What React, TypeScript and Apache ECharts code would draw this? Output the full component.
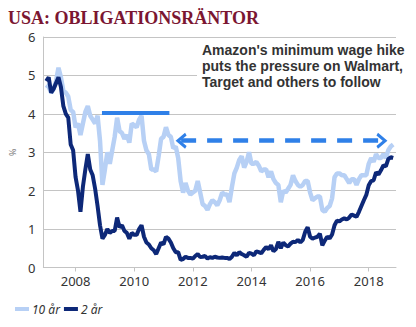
import React, { useEffect, useRef } from "react";
import * as echarts from "echarts";

// Monthly observations (start of month), Jan 2007 .. Oct 2018, plus end of Oct 2018
const START_YEAR = 2007;

const tenYear: number[] = [
  // 2007
  4.75, 4.7, 4.55, 4.65, 4.85, 5.2, 4.95, 4.6, 4.55, 4.45, 4.1, 4.05,
  // 2008
  3.65, 3.75, 3.45, 3.75, 4.05, 4.2, 3.95, 3.85, 3.75, 3.95, 3.3, 2.15,
  // 2009
  2.55, 3.0, 2.7, 3.05, 3.4, 3.9, 3.55, 3.5, 3.35, 3.45, 3.25, 3.75,
  // 2010
  3.7, 3.65, 3.85, 3.95, 3.3, 3.05, 2.95, 2.55, 2.55, 2.5, 2.9, 3.35,
  // 2011
  3.4, 3.65, 3.45, 3.4, 3.1, 3.15, 2.85, 2.25, 1.95, 2.2, 2.0, 1.9,
  // 2012
  1.95, 2.0, 2.25, 1.95, 1.65, 1.6, 1.5, 1.65, 1.75, 1.7, 1.62, 1.75,
  // 2013
  1.95, 1.9, 1.9, 1.7, 2.1, 2.45, 2.6, 2.8, 2.9, 2.6, 2.75, 3.0,
  // 2014
  2.7, 2.7, 2.75, 2.65, 2.5, 2.55, 2.55, 2.35, 2.5, 2.3, 2.2, 2.15,
  // 2015
  1.7, 2.0, 1.95, 2.05, 2.15, 2.4, 2.25, 2.15, 2.1, 2.15, 2.25, 2.25,
  // 2016
  1.95, 1.75, 1.8, 1.85, 1.85, 1.5, 1.45, 1.55, 1.6, 1.8, 2.35, 2.45,
  // 2017
  2.45, 2.4, 2.4, 2.3, 2.2, 2.3, 2.3, 2.15, 2.3, 2.4, 2.4, 2.4,
  // 2018
  2.7, 2.85, 2.75, 2.95, 2.85, 2.85, 2.95, 2.85, 3.05, 3.15, 3.2,
];

const twoYear: number[] = [
  // 2007
  4.85, 4.95, 4.55, 4.65, 4.8, 4.95, 4.7, 4.2, 4.0, 3.9, 3.2, 3.05,
  // 2008
  2.35, 2.0, 1.45, 2.1, 2.55, 2.95, 2.55, 2.4, 2.05, 1.6, 1.1, 0.75,
  // 2009
  0.85, 1.0, 0.9, 0.95, 0.95, 1.3, 1.05, 1.1, 0.95, 0.9, 0.75, 0.9,
  // 2010
  0.85, 0.85, 1.0, 1.1, 0.8, 0.65, 0.6, 0.5, 0.45, 0.35, 0.5, 0.65,
  // 2011
  0.6, 0.8, 0.75, 0.65, 0.5, 0.4, 0.4, 0.2, 0.22, 0.28, 0.25, 0.25,
  // 2012
  0.23, 0.3, 0.35, 0.27, 0.28, 0.3, 0.23, 0.27, 0.25, 0.28, 0.26, 0.25,
  // 2013
  0.26, 0.25, 0.25, 0.22, 0.28, 0.38, 0.32, 0.4, 0.35, 0.32, 0.28, 0.38,
  // 2014
  0.36, 0.32, 0.42, 0.4, 0.37, 0.46, 0.53, 0.48, 0.58, 0.42, 0.48, 0.67,
  // 2015
  0.5, 0.65, 0.58, 0.55, 0.62, 0.67, 0.66, 0.72, 0.65, 0.72, 0.93, 1.05,
  // 2016
  0.8, 0.75, 0.78, 0.8, 0.88, 0.58, 0.7, 0.8, 0.76, 0.86, 1.1, 1.22,
  // 2017
  1.2, 1.25, 1.28, 1.25, 1.3, 1.38, 1.35, 1.32, 1.45, 1.6, 1.75, 1.89,
  // 2018
  2.14, 2.25, 2.27, 2.48, 2.42, 2.53, 2.66, 2.63, 2.82, 2.87, 2.85,
];

const yearLabels = [2008, 2010, 2012, 2014, 2016, 2018];
const seriesNames = ["10 år", "2 år"];
const titleText = "USA: OBLIGATIONSRÄNTOR";
const yAxisName = "%";
const annotationLines = [
  "Amazon's minimum wage hike",
  "puts the pressure on Walmart,",
  "Target and others to follow",
];
// annotation marks in data coordinates: [startYear, endYear, level]
const solidMark = [2008.9, 2011.2, 4.03];
const arrowMark = [2011.6, 2018.45, 3.3];

const toPairs = (vals: number[]) =>
  vals.map((v, i) => [START_YEAR + i / 12, v]);

const CHEVRON = "path://M0,12 L10,0 L20,12 L16.5,14 L10,6 L3.5,14 Z";

export default function App() {
  const ref = useRef<HTMLDivElement>(null);
  useEffect(() => {
    if (!ref.current) return;
    const chart = echarts.init(ref.current, null, { renderer: "svg" });
    const gridColor = "#c4c4c4";
    const markBlue = "#2f80e8";
    chart.setOption({
      animation: false,
      backgroundColor: "#ffffff",
      grid: { left: 35, right: 20, top: 37, bottom: 59.5, containLabel: false },
      xAxis: {
        type: "value",
        min: 2006.9,
        max: 2018.93,
        axisLine: { show: true, lineStyle: { color: gridColor, width: 1 } },
        axisTick: {
          show: true,
          customValues: yearLabels,
          length: 4,
          lineStyle: { color: gridColor },
        },
        axisLabel: {
          customValues: yearLabels,
          formatter: (v: number) => String(Math.round(v)),
          color: "#333333",
          fontFamily: "Noto Sans",
          fontSize: 13,
          margin: 7,
        },
        splitLine: { show: false },
      },
      yAxis: {
        type: "value",
        min: 0,
        max: 6,
        interval: 1,
        name: yAxisName,
        nameLocation: "middle",
        nameGap: 20,
        nameRotate: 90,
        nameTextStyle: { color: "#777777", fontSize: 9, fontFamily: "Noto Sans" },
        axisLine: { show: true, lineStyle: { color: gridColor, width: 1 } },
        axisTick: { show: false },
        axisLabel: {
          color: "#333333",
          fontFamily: "Noto Sans",
          fontSize: 13,
          margin: 8,
        },
        splitLine: { show: true, lineStyle: { color: gridColor, width: 1 } },
      },
      legend: {
        left: 10,
        top: 298,
        itemWidth: 14,
        itemHeight: 4,
        itemGap: 4,
        icon: "rect",
        data: seriesNames,
        textStyle: {
          fontFamily: "Noto Sans",
          fontStyle: "italic",
          fontSize: 12,
          color: "#333333",
          padding: [0, 0, 0, -2],
        },
      },
      series: [
        {
          name: seriesNames[0],
          type: "line",
          data: toPairs(tenYear),
          showSymbol: false,
          symbol: "none",
          lineStyle: { color: "#b7d0f5", width: 4.5 },
          itemStyle: { color: "#b7d0f5" },
          z: 2,
          markLine: {
            silent: true,
            animation: false,
            label: { show: false },
            data: [
              [
                {
                  coord: [solidMark[0], solidMark[2]],
                  symbol: "none",
                  lineStyle: { color: markBlue, width: 4, type: "solid" },
                },
                { coord: [solidMark[1], solidMark[2]], symbol: "none" },
              ],
              [
                {
                  coord: [arrowMark[0], arrowMark[2]],
                  symbol: CHEVRON,
                  symbolSize: [16, 11],
                  lineStyle: { color: markBlue, width: 4.5, type: [15, 11] },
                },
                {
                  coord: [arrowMark[1], arrowMark[2]],
                  symbol: CHEVRON,
                  symbolSize: [16, 11],
                },
              ],
            ],
            lineStyle: { color: markBlue },
            itemStyle: { color: markBlue },
          },
        },
        {
          name: seriesNames[1],
          type: "line",
          data: toPairs(twoYear),
          showSymbol: false,
          symbol: "none",
          lineStyle: { color: "#0d2878", width: 4 },
          itemStyle: { color: "#0d2878" },
          z: 3,
        },
      ],
      graphic: [
        {
          type: "text",
          left: 8,
          top: 9,
          z: 20,
          style: {
            text: titleText,
            fill: "#7b1631",
            font: "bold 18px 'Liberation Serif', 'Times New Roman', serif",
          },
        },
        {
          type: "rect",
          z: 15,
          shape: { x: 197, y: 39, width: 203, height: 53 },
          style: { fill: "#ffffff" },
        },
        {
          type: "text",
          x: 202,
          y: 42,
          z: 20,
          style: {
            text: annotationLines.join("\n"),
            fill: "#333333",
            font: "bold 14px 'Liberation Sans', Arial, sans-serif",
            lineHeight: 16,
          },
        },
      ],
    });
    return () => chart.dispose();
  }, []);
  return (
    <div
      ref={ref}
      style={{ position: "fixed", left: 0, top: 0, width: 416, height: 327 }}
    />
  );
}
